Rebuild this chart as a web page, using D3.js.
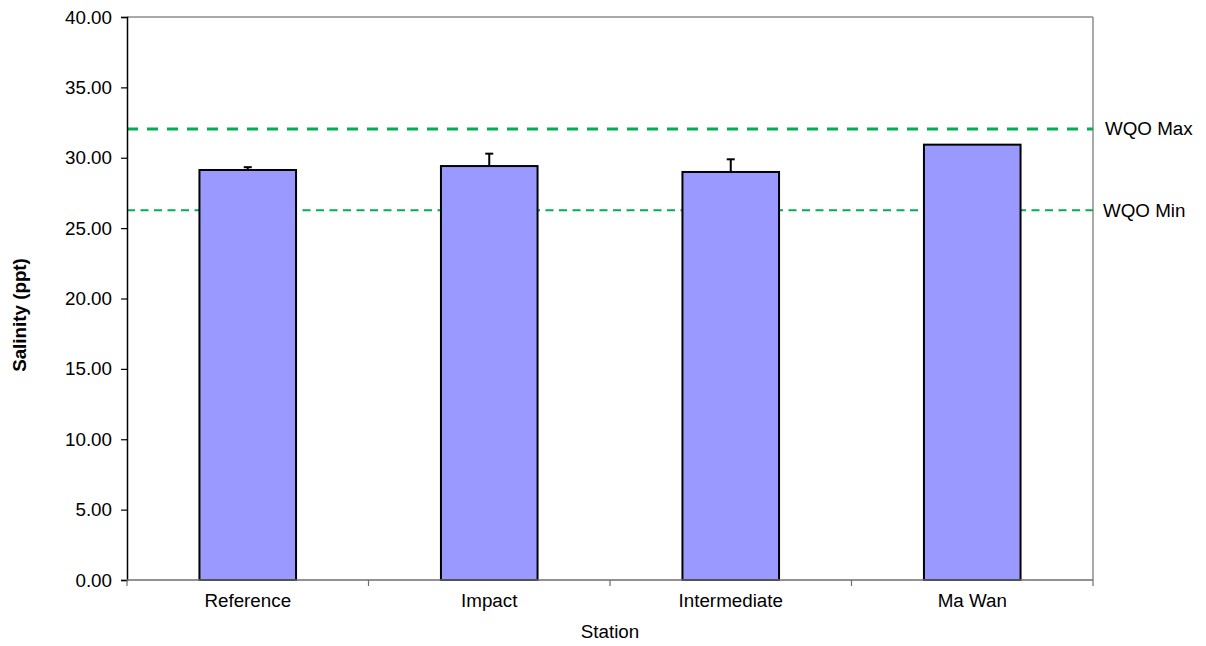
<!DOCTYPE html>
<html>
<head>
<meta charset="utf-8">
<script src="https://cdn.jsdelivr.net/npm/d3@7"></script>
<style>
  html, body { margin: 0; padding: 0; background: #fff; }
  svg { display: block; font-family: "Liberation Sans", Arial, sans-serif; }
</style>
</head>
<body>
<svg id="chart" width="1206" height="646"></svg>
<script>
const categories = ["Reference", "Impact", "Intermediate", "Ma Wan"];
const salinity = [29.13, 29.41, 28.99, 30.93];
const errorPlus = [0.20, 0.88, 0.90, 0.0];
const yTicks = [0, 5, 10, 15, 20, 25, 30, 35, 40];
const wqoMax = 32.05;
const wqoMin = 26.27;

const FS = 18.8;
const svg = d3.select("#chart");
const m = { left: 127, right: 1093, top: 17, bottom: 580 };

const x = d3.scaleBand().domain(categories).range([m.left, m.right]).paddingInner(0).paddingOuter(0);
const y = d3.scaleLinear().domain([0, 40]).range([m.bottom, m.top]);
const barW = x.bandwidth() * 0.4;

// frame: top and right gray
svg.append("line").attr("x1", m.left).attr("x2", m.right).attr("y1", m.top).attr("y2", m.top)
  .attr("stroke", "#8c8c8c").attr("stroke-width", 1.5);
svg.append("line").attr("x1", m.right).attr("x2", m.right).attr("y1", m.top).attr("y2", m.bottom)
  .attr("stroke", "#8c8c8c").attr("stroke-width", 1.5);

// WQO lines
svg.append("line").attr("x1", m.left).attr("x2", m.right).attr("y1", y(wqoMax)).attr("y2", y(wqoMax))
  .attr("stroke", "#00b050").attr("stroke-width", 3).attr("stroke-dasharray", "11,9");
svg.append("line").attr("x1", m.left).attr("x2", m.right).attr("y1", y(wqoMin)).attr("y2", y(wqoMin))
  .attr("stroke", "#00b050").attr("stroke-width", 2).attr("stroke-dasharray", "8,5.5");

// bars
const data = categories.map((c, i) => ({ c, v: salinity[i], e: errorPlus[i] }));
svg.append("g").selectAll("rect").data(data).join("rect")
  .attr("x", d => x(d.c) + x.bandwidth() / 2 - barW / 2)
  .attr("y", d => y(d.v))
  .attr("width", barW)
  .attr("height", d => y(0) - y(d.v))
  .attr("fill", "#9999ff")
  .attr("stroke", "#000")
  .attr("stroke-width", 2);

// error bars (plus only)
const eb = svg.append("g").selectAll("g").data(data.filter(d => d.e > 0)).join("g");
eb.append("line")
  .attr("x1", d => x(d.c) + x.bandwidth() / 2).attr("x2", d => x(d.c) + x.bandwidth() / 2)
  .attr("y1", d => y(d.v)).attr("y2", d => y(d.v + d.e))
  .attr("stroke", "#000").attr("stroke-width", 2);
eb.append("line")
  .attr("x1", d => x(d.c) + x.bandwidth() / 2 - 4).attr("x2", d => x(d.c) + x.bandwidth() / 2 + 4)
  .attr("y1", d => y(d.v + d.e)).attr("y2", d => y(d.v + d.e))
  .attr("stroke", "#000").attr("stroke-width", 2);

// y axis
const yAxis = d3.axisLeft(y).tickValues(yTicks).tickFormat(d3.format(".2f")).tickSize(6).tickPadding(9);
const gy = svg.append("g").attr("transform", `translate(${m.left},0)`).call(yAxis);
gy.select(".domain").attr("stroke", "#000").attr("stroke-width", 1.5);
gy.selectAll(".tick line").attr("stroke", "#000").attr("stroke-width", 1.2);
gy.selectAll(".tick text").attr("font-size", FS).attr("fill", "#000")
  .attr("font-family", "Liberation Sans, Arial, sans-serif");

// x axis
const gx = svg.append("g").attr("transform", `translate(0,${m.bottom})`)
  .call(d3.axisBottom(x).tickSize(0).tickPadding(14));
gx.select(".domain").remove();
gx.selectAll(".tick text").attr("font-size", FS).attr("fill", "#000")
  .attr("font-family", "Liberation Sans, Arial, sans-serif");
svg.append("line").attr("x1", m.left).attr("x2", m.right).attr("y1", m.bottom).attr("y2", m.bottom)
  .attr("stroke", "#6e6e6e").attr("stroke-width", 1.5);
// boundary ticks
const bounds = categories.map(c => x(c)).concat([m.right]);
svg.append("g").selectAll("line").data(bounds).join("line")
  .attr("x1", d => d).attr("x2", d => d).attr("y1", m.bottom).attr("y2", m.bottom + 6)
  .attr("stroke", "#6e6e6e").attr("stroke-width", 1.2);

// axis titles
svg.append("text").attr("x", (m.left + m.right) / 2).attr("y", 638).attr("text-anchor", "middle")
  .attr("font-size", FS).attr("fill", "#000").text("Station");
svg.append("text").attr("transform", "translate(26,315) rotate(-90)").attr("text-anchor", "middle")
  .attr("font-size", FS).attr("font-weight", "bold").attr("fill", "#000").text("Salinity (ppt)");

// WQO labels
svg.append("text").attr("x", 1105).attr("y", y(wqoMax) + 6.5).attr("font-size", FS).attr("fill", "#000").text("WQO Max");
svg.append("text").attr("x", 1103).attr("y", y(wqoMin) + 6.5).attr("font-size", FS).attr("fill", "#000").text("WQO Min");
</script>
</body>
</html>
